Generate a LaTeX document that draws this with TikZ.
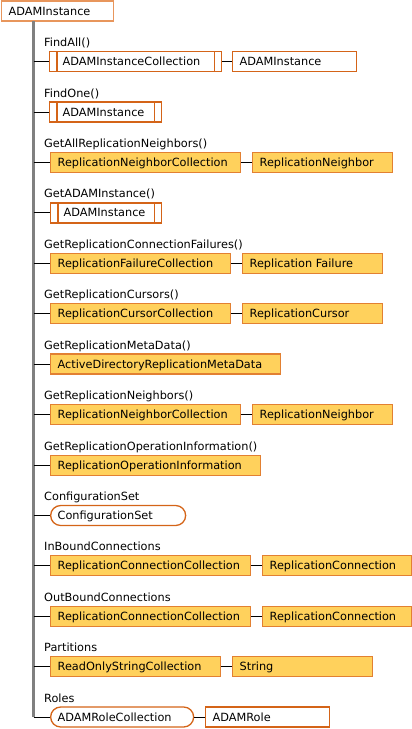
\documentclass[tikz,border=0pt]{standalone}
\usepackage{fontspec}
\setmainfont{DejaVu Sans}
\definecolor{boxfill}{RGB}{255,209,92}
\definecolor{darkor}{RGB}{212,100,24}
\definecolor{midor}{RGB}{226,128,50}
\definecolor{lightor}{RGB}{232,150,92}
\definecolor{trunkgray}{RGB}{128,128,128}
\tikzset{
  base/.style={anchor=west, minimum height=20pt, inner ysep=0pt, text height=8pt, text depth=0pt, align=left, line width=1.3pt, font=\fontsize{11.3}{13}\selectfont},
  fillbox/.style={base, draw=midor, fill=boxfill},
  dblbox/.style={base, draw=darkor, fill=white},
  whitebox/.style={base, draw=darkor, fill=white},
  rootbox/.style={base, draw=lightor, fill=white},
  roundbox/.style={base, draw=darkor, fill=white, rounded corners=10pt},
  lbl/.style={anchor=base west, inner sep=0pt, font=\fontsize{11.3}{13}\selectfont},
  conn/.style={draw=black, line width=1pt},
  trunk/.style={draw=trunkgray, line width=2.2pt},
  inner/.style={draw=darkor, line width=1.2pt}
}
\newcommand\mybox[7]{%
  \pgfmathsetmacro\tw{#3-#2-2*#6}%
  \node[#5, inner xsep=#6pt, text width=\tw pt] (#1) at (#2,#4) {#7};%
}
\newcommand\dblines[1]{%
  \draw[inner] ([xshift=8pt]#1.north west) -- ([xshift=8pt]#1.south west);
  \draw[inner] ([xshift=-8pt]#1.north east) -- ([xshift=-8pt]#1.south east);
}
\begin{document}
\begin{tikzpicture}[x=1pt,y=-1pt]
\useasboundingbox (0,0) rectangle (412,729);
% root
\mybox{root}{1}{113}{11}{rootbox}{7}{ADAMInstance}
\coordinate (t0) at (33.5,21);
\coordinate (t13) at (33.5,717);
\draw[trunk] (t0) -- (t13);
% row 0
\node[lbl] (l0) at (44,46.7) {FindAll()};
\mybox{b0a}{49}{221}{61.7}{dblbox}{13}{ADAMInstanceCollection}
\dblines{b0a}
\mybox{b0b}{232}{356}{61.7}{whitebox}{7}{ADAMInstance}
\draw[conn] (b0a.west -| t0) -- (b0a.west);
\draw[conn] (b0a.east) -- (b0b.west);
% row 1
\node[lbl] (l1) at (44,97.1) {FindOne()};
\mybox{b1a}{49}{161}{112.1}{dblbox}{13}{ADAMInstance}
\dblines{b1a}
\draw[conn] (b1a.west -| t0) -- (b1a.west);
% row 2
\node[lbl] (l2) at (44,147.5) {GetAllReplicationNeighbors()};
\mybox{b2a}{50}{240}{162.5}{fillbox}{7}{ReplicationNeighborCollection}
\mybox{b2b}{252}{392}{162.5}{fillbox}{7}{ReplicationNeighbor}
\draw[conn] (b2a.west -| t0) -- (b2a.west);
\draw[conn] (b2a.east) -- (b2b.west);
% row 3
\node[lbl] (l3) at (44,197.9) {GetADAMInstance()};
\mybox{b3a}{50}{161}{212.9}{dblbox}{13}{ADAMInstance}
\dblines{b3a}
\draw[conn] (b3a.west -| t0) -- (b3a.west);
% row 4
\node[lbl] (l4) at (44,248.3) {GetReplicationConnectionFailures()};
\mybox{b4a}{50}{230}{263.3}{fillbox}{7}{ReplicationFailureCollection}
\mybox{b4b}{242}{382}{263.3}{fillbox}{7}{Replication Failure}
\draw[conn] (b4a.west -| t0) -- (b4a.west);
\draw[conn] (b4a.east) -- (b4b.west);
% row 5
\node[lbl] (l5) at (44,298.7) {GetReplicationCursors()};
\mybox{b5a}{50}{230}{313.7}{fillbox}{7}{ReplicationCursorCollection}
\mybox{b5b}{242}{382}{313.7}{fillbox}{7}{ReplicationCursor}
\draw[conn] (b5a.west -| t0) -- (b5a.west);
\draw[conn] (b5a.east) -- (b5b.west);
% row 6
\node[lbl] (l6) at (44,349.1) {GetReplicationMetaData()};
\mybox{b6a}{50}{280}{364.1}{fillbox}{7}{ActiveDirectoryReplicationMetaData}
\draw[conn] (b6a.west -| t0) -- (b6a.west);
% row 7
\node[lbl] (l7) at (44,399.5) {GetReplicationNeighbors()};
\mybox{b7a}{50}{240}{414.5}{fillbox}{7}{ReplicationNeighborCollection}
\mybox{b7b}{252}{392}{414.5}{fillbox}{7}{ReplicationNeighbor}
\draw[conn] (b7a.west -| t0) -- (b7a.west);
\draw[conn] (b7a.east) -- (b7b.west);
% row 8
\node[lbl] (l8) at (44,450.5) {GetReplicationOperationInformation()};
\mybox{b8a}{50}{260}{465.5}{fillbox}{7}{ReplicationOperationInformation}
\draw[conn] (b8a.west -| t0) -- (b8a.west);
% row 9
\node[lbl] (l9) at (44,500.5) {ConfigurationSet};
\mybox{b9a}{50}{185}{515.5}{roundbox}{7}{ConfigurationSet}
\draw[conn] (b9a.west -| t0) -- (b9a.west);
% row 10
\node[lbl] (l10) at (44,550.7) {InBoundConnections};
\mybox{b10a}{50}{250}{565.7}{fillbox}{7}{ReplicationConnectionCollection}
\mybox{b10b}{262}{411}{565.7}{fillbox}{7}{ReplicationConnection}
\draw[conn] (b10a.west -| t0) -- (b10a.west);
\draw[conn] (b10a.east) -- (b10b.west);
% row 11
\node[lbl] (l11) at (44,601.7) {OutBoundConnections};
\mybox{b11a}{50}{250}{616.7}{fillbox}{7}{ReplicationConnectionCollection}
\mybox{b11b}{262}{411}{616.7}{fillbox}{7}{ReplicationConnection}
\draw[conn] (b11a.west -| t0) -- (b11a.west);
\draw[conn] (b11a.east) -- (b11b.west);
% row 12
\node[lbl] (l12) at (44,651.7) {Partitions};
\mybox{b12a}{50}{220}{666.7}{fillbox}{7}{ReadOnlyStringCollection}
\mybox{b12b}{232}{372}{666.7}{fillbox}{7}{String}
\draw[conn] (b12a.west -| t0) -- (b12a.west);
\draw[conn] (b12a.east) -- (b12b.west);
% row 13
\node[lbl] (l13) at (44,702) {Roles};
\mybox{b13a}{50}{193}{717}{roundbox}{7}{ADAMRoleCollection}
\mybox{b13b}{205}{329}{717}{whitebox}{7}{ADAMRole}
\draw[conn] (t13) -- (b13a.west);
\draw[conn] (b13a.east) -- (b13b.west);
\end{tikzpicture}
\end{document}
